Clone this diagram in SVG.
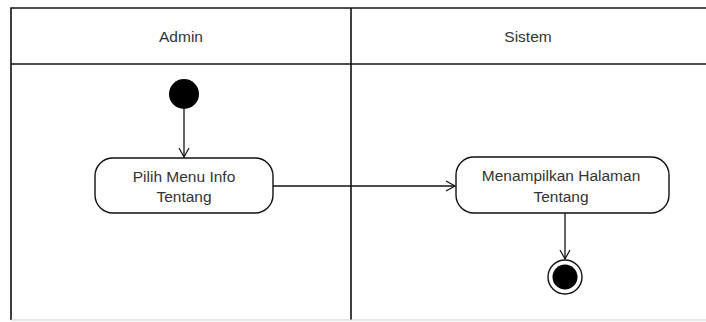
<svg xmlns="http://www.w3.org/2000/svg" width="706" height="322" viewBox="0 0 706 322">
<defs>
<style>
text{font-family:"Liberation Sans",Arial,sans-serif;font-size:15.5px;fill:#333;text-anchor:middle}
.lane{fill:none;stroke:#111;stroke-width:1.6}
.act{fill:#fff;stroke:#111;stroke-width:1.4}
.edge{fill:none;stroke:#111;stroke-width:1.3}
</style>
<marker id="open" markerWidth="12" markerHeight="12" refX="10" refY="6" orient="auto" markerUnits="userSpaceOnUse">
<path d="M1,1 L10,6 L1,11" fill="none" stroke="#111" stroke-width="1.2"/>
</marker>
</defs>
<rect width="706" height="322" fill="#fff"/>
<g id="lanes">
<path class="lane" d="M11,320 L11,8 L706,8"/>
<line class="lane" x1="11" y1="64" x2="706" y2="64"/>
<line class="lane" x1="351" y1="8" x2="351" y2="320"/>
<line x1="11" y1="320" x2="706" y2="320" stroke="#ccc" stroke-width="1"/>
<text x="181" y="42">Admin</text>
<text x="528" y="42">Sistem</text>
</g>
<g id="start">
<circle cx="184" cy="94" r="15" fill="#000"/>
</g>
<g id="act1">
<rect class="act" x="95" y="158" width="178" height="55" rx="18"/>
<text x="184" y="182">Pilih Menu Info</text>
<text x="184" y="202">Tentang</text>
</g>
<g id="act2">
<rect class="act" x="456" y="157" width="213" height="56" rx="18"/>
<text x="561" y="181">Menampilkan Halaman</text>
<text x="561" y="202">Tentang</text>
</g>
<g id="end">
<circle cx="565" cy="277" r="17" fill="#fff" stroke="#111" stroke-width="1.4"/>
<circle cx="565" cy="277" r="12.5" fill="#000"/>
</g>
<g id="connectors">
<line class="edge" x1="184" y1="109" x2="184" y2="157" marker-end="url(#open)"/>
<line class="edge" x1="273" y1="186" x2="455" y2="186" marker-end="url(#open)"/>
<line class="edge" x1="565" y1="213" x2="565" y2="259" marker-end="url(#open)"/>
</g>
</svg>
